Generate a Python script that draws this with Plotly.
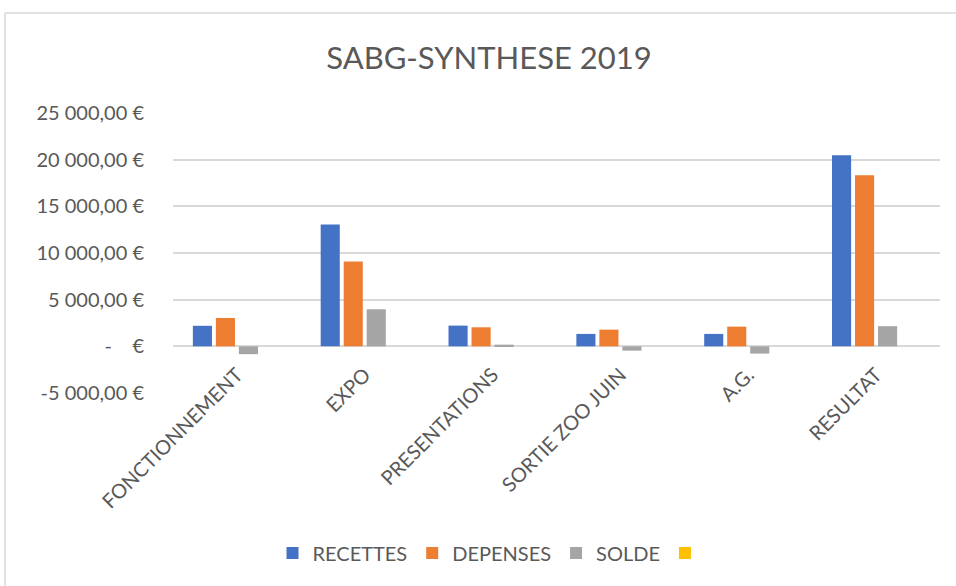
import plotly.graph_objects as go

categories = ["FONCTIONNEMENT", "EXPO", "PRESENTATIONS", "SORTIE ZOO JUIN", "A.G.", "RESULTAT"]
recettes = [2200, 13050, 2220, 1330, 1330, 20480]
depenses = [3040, 9080, 2040, 1790, 2110, 18320]
solde = [-840, 3970, 180, -460, -780, 2160]
empty_series = [None, None, None, None, None, None]
tick_vals = [-5000, 0, 5000, 10000, 15000, 20000, 25000]
y_range = [-5000, 25000]


def fmt_eur(v):
    if v == 0:
        return "-" + "\u00a0" * 4 + "€"
    s = f"{abs(v):,.2f}".replace(",", "\u00a0").replace(".", ",")
    return ("-" if v < 0 else "") + s + "\u00a0€"


tick_text = [fmt_eur(v) for v in tick_vals]

W, H = 956, 586
ml, mr, mt, mb = 173, 16, 113, 193
pw, ph = W - ml - mr, H - mt - mb

FONT = "Lato"
GREY = "#595959"

fig = go.Figure()
for name, vals, col in [("RECETTES", recettes, "#4472C4"),
                        ("DEPENSES", depenses, "#ED7D31"),
                        ("SOLDE", solde, "#A5A5A5"),
                        ("", empty_series, "#FFC000")]:
    fig.add_trace(go.Bar(x=categories, y=vals, name=name, marker_color=col,
                         marker_line_width=0))


def px_x(p):
    return (p - ml) / pw


def px_y(p):
    return 1 - (p - mt) / ph


# category axis crosses the value axis at zero (as in the source chart)
zero_pos = (0 - y_range[0]) / (y_range[1] - y_range[0])

fig.update_layout(
    width=W, height=H,
    margin=dict(l=ml, r=mr, t=mt, b=mb, autoexpand=False),
    paper_bgcolor="white", plot_bgcolor="white",
    barmode="group", bargap=0.28, bargroupgap=0.17,
    font=dict(family=FONT, color=GREY, size=20),
    title=dict(text="SABG-SYNTHESE 2019", x=489 / W, xanchor="center",
               y=1 - 58 / H, yanchor="middle",
               font=dict(family=FONT, size=31, color=GREY)),
    xaxis=dict(tickangle=-45, showgrid=False, showline=False, ticks="",
               anchor="free", position=zero_pos, ticklabelstandoff=12,
               automargin=False, tickfont=dict(size=20, color=GREY)),
    yaxis=dict(range=y_range, tickvals=tick_vals, ticktext=tick_text,
               showgrid=True, gridcolor="#D9D9D9", gridwidth=1.5,
               zeroline=True, zerolinecolor="#D9D9D9", zerolinewidth=1.5,
               ticks="", ticklabelstandoff=28, automargin=False,
               tickfont=dict(size=20, color=GREY)),
    legend=dict(orientation="h", x=0.5 * (293 + 690) / W, xref="container",
                xanchor="center", y=1 - 553 / H, yref="container",
                yanchor="middle", font=dict(size=20, color=GREY),
                itemwidth=30, traceorder="normal"),
    shapes=[
        dict(type="line", xref="paper", yref="paper",
             x0=px_x(5), x1=px_x(5), y0=px_y(13), y1=px_y(600),
             line=dict(color="#D9D9D9", width=1.5)),
        dict(type="line", xref="paper", yref="paper",
             x0=px_x(5), x1=px_x(960), y0=px_y(13), y1=px_y(13),
             line=dict(color="#D9D9D9", width=1.5)),
    ],
)

fig.write_html("out.html", config={"displayModeBar": False},
               post_script="document.body.style.margin='0';document.body.style.overflow='hidden';")
